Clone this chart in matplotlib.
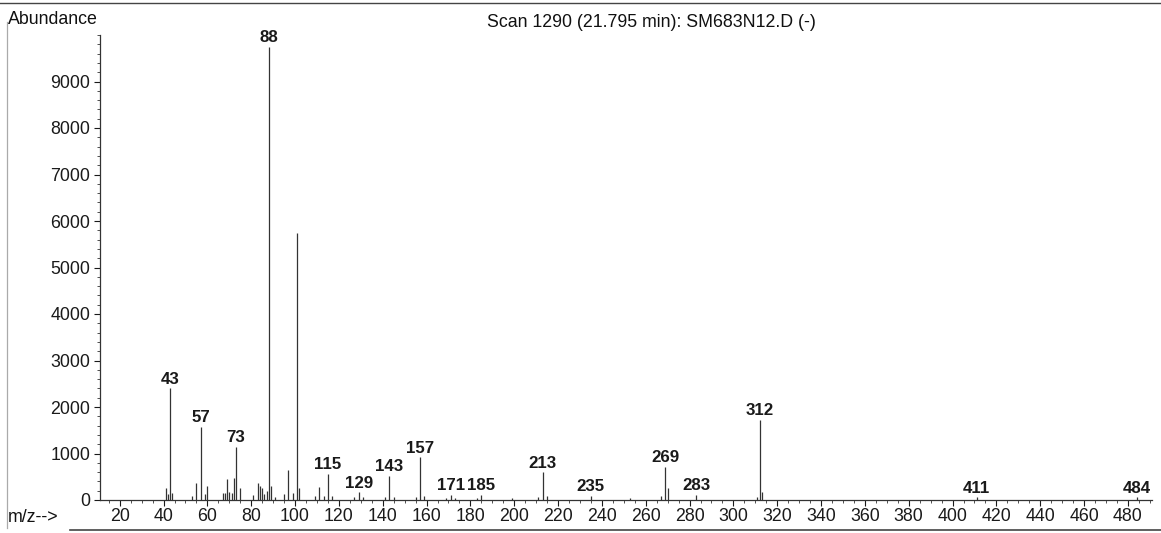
import matplotlib
matplotlib.use("Agg")
import matplotlib.pyplot as plt
from matplotlib.lines import Line2D
from matplotlib.ticker import MultipleLocator

# Mass spectrum: m/z values and abundances
mz = [41, 42, 43, 44, 53, 55, 57, 59, 60, 67, 68, 69, 70, 71, 72, 73, 75,
      81, 83, 84, 85, 86, 87, 88, 89, 91, 95, 97, 99, 101, 102, 109, 111,
      113, 115, 117, 127, 129, 131, 141, 143, 145, 155, 157, 159, 169, 171,
      173, 183, 185, 199, 211, 213, 215, 235, 253, 267, 269, 270, 283, 311,
      312, 313, 411, 484]
abundance = [260, 120, 2400, 150, 90, 370, 1570, 130, 300, 150, 160, 450,
             180, 140, 470, 1150, 260, 100, 370, 300, 260, 120, 200, 9750,
             300, 60, 120, 640, 150, 5740, 260, 80, 290, 90, 560, 80, 60,
             170, 60, 60, 520, 60, 60, 920, 80, 40, 110, 50, 40, 110, 40,
             60, 600, 90, 90, 40, 80, 720, 260, 110, 60, 1720, 180, 60, 60]

# Peaks carrying an m/z annotation
labeled_mz = [43, 57, 73, 88, 115, 129, 143, 157, 171, 185, 213, 235, 269,
              283, 312, 411, 484]

x_ticks = list(range(20, 481, 20))
y_ticks = list(range(0, 9001, 1000))

title = "Scan 1290 (21.795 min): SM683N12.D (-)"

W, H = 1161, 533
fig = plt.figure(figsize=(W / 100, H / 100), dpi=100)
font = ["Liberation Sans", "DejaVu Sans"]
plt.rcParams["font.family"] = font
fs = 12.8

ax = fig.add_axes([100 / W, 1 - 500 / H, 1052 / W, 465 / H])
ax.set_xlim(11, 491)
ax.set_ylim(0, 10000)

ink = "#333333"
ax.vlines(mz, 0, abundance, color=ink, lw=0.9)

peak = dict(zip(mz, abundance))
for m in labeled_mz:
    ax.annotate(str(m), (m, peak[m]), xytext=(0, 6.5), textcoords="offset points",
                ha="center", va="center", fontsize=12.2, fontweight="bold",
                color="#1a1a1a")

# Axes styling: only left and bottom spines
for side in ("top", "right"):
    ax.spines[side].set_visible(False)
for side in ("left", "bottom"):
    ax.spines[side].set_color("#333333")
    ax.spines[side].set_linewidth(0.9)

ax.set_xticks(x_ticks)
ax.set_yticks(y_ticks)
ax.xaxis.set_minor_locator(MultipleLocator(5))
ax.yaxis.set_minor_locator(MultipleLocator(200))
ax.tick_params(axis="both", which="major", labelsize=fs, colors="#1a1a1a",
               length=4, width=0.8, direction="out")
ax.tick_params(axis="both", which="minor", length=2, width=0.6,
               colors="#333333", direction="out")
ax.tick_params(axis="x", pad=2)
ax.tick_params(axis="y", pad=3)

# Header texts
fig.text(8 / W, 1 - 19 / H, "Abundance", fontsize=fs, ha="left",
         va="center", color="#111111")
fig.text(651 / W, 1 - 22 / H, title, fontsize=fs, ha="center",
         va="center", color="#111111")
fig.text(8 / W, 1 - 518 / H, "m/z-->", fontsize=fs, ha="left",
         va="center", color="#111111")

# Printed page frame lines
fig.add_artist(Line2D([0, 1], [1 - 3 / H, 1 - 3 / H], transform=fig.transFigure,
                      color="#444444", lw=1.0))
fig.add_artist(Line2D([7 / W, 7 / W], [1 - 22 / H, 1 - 528 / H],
                      transform=fig.transFigure, color="#aaaaaa", lw=0.9))
fig.add_artist(Line2D([70 / W, 1], [1 - 530 / H, 1 - 530 / H],
                      transform=fig.transFigure, color="#444444", lw=1.2))

fig.savefig("out.png", dpi=100, facecolor="white")
